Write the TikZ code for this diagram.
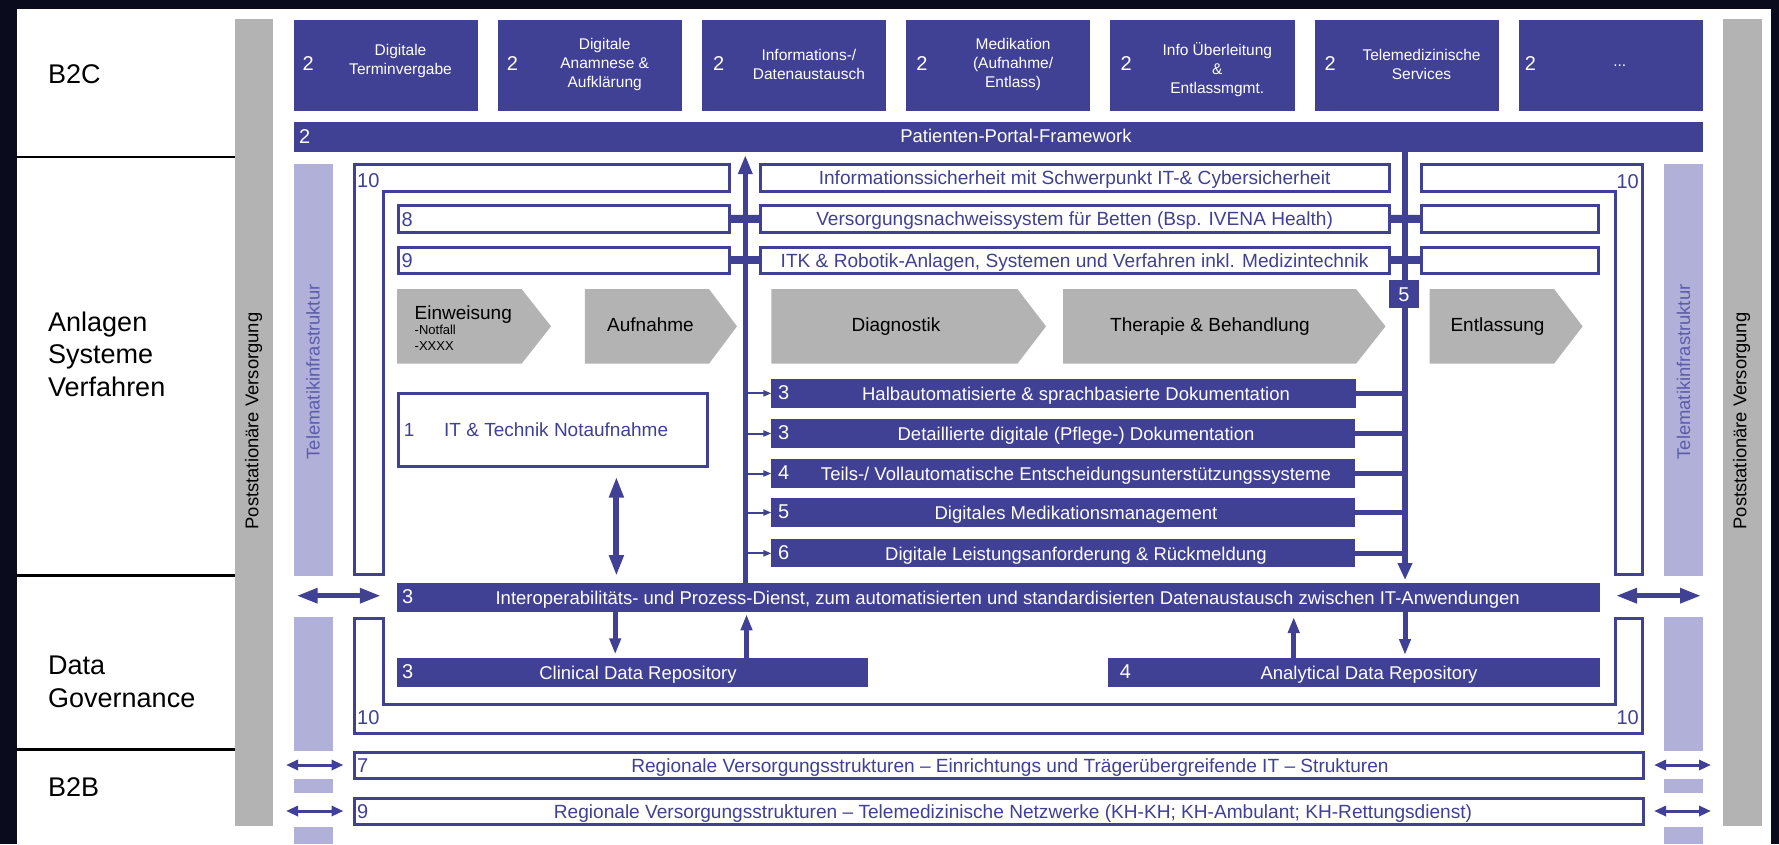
\documentclass[tikz,border=0pt]{standalone}
\usepackage{fontspec}
\setmainfont{Liberation Sans}
\usetikzlibrary{arrows.meta}
\definecolor{myblue}{RGB}{64,64,148}
\definecolor{lpurple}{RGB}{176,176,216}
\definecolor{mygray}{RGB}{179,179,179}
\definecolor{darkbg}{RGB}{10,12,30}
\definecolor{telblue}{RGB}{92,92,172}
\newcommand{\mkbox}[6]{\node[#1,minimum width={#4pt-#2pt},minimum height={#5pt-#3pt}] (#6) at (#2,#3) {};}
\newcommand{\mkwbox}[6]{\node[#1,minimum width={#4pt-#2pt-3pt},minimum height={#5pt-#3pt-3pt}] (#6) at (#2+1.5,#3+1.5) {};}
\newcommand{\mkchev}[4]{\fill[mygray] (#1,289) -- (#2,289) -- (#3,326.35) -- (#2,363.7) -- (#1,363.7) -- cycle; \coordinate (#4) at ({(#1+#2)/2},326.35);}
\begin{document}
\begin{tikzpicture}[x=1pt,y=-1pt,
 fillbox/.style={draw=none,inner sep=0pt,outer sep=0pt,anchor=north west},
 bluebox/.style={fillbox,fill=myblue},
 graybox/.style={fillbox,fill=mygray},
 purplebox/.style={fillbox,fill=lpurple},
 wbox/.style={draw=myblue,line width=3pt,fill=white,inner sep=0pt,outer sep=0pt,anchor=north west},
 lbl/.style={inner sep=0pt,font=\fontsize{27}{32.5}\selectfont,anchor=west,align=left},
 vtxt/.style={inner sep=0pt,rotate=90,font=\fontsize{18.4}{22}\selectfont},
 wnum/.style={inner sep=0pt,text=white,font=\fontsize{20}{24}\selectfont,anchor=west,text height=14.4pt,text depth=0pt},
 bnum/.style={inner sep=0pt,text=myblue,font=\fontsize{20}{24}\selectfont,text height=14.4pt,text depth=0pt},
 wtxt/.style={inner sep=0pt,text=white,font=\fontsize{18.5}{22}\selectfont,text height=13.3pt,text depth=0pt},
 btxt/.style={inner sep=0pt,text=myblue,font=\fontsize{19.1}{23}\selectfont,text height=13.75pt,text depth=0pt},
 toptxt/.style={inner sep=0pt,text=white,font=\fontsize{15.5}{19}\selectfont,align=center},
 chtxt/.style={inner sep=0pt,text=black,font=\fontsize{19}{23}\selectfont,text height=13.7pt,text depth=0pt},
 smtxt/.style={inner sep=0pt,text=black,font=\fontsize{13}{16}\selectfont,anchor=west,text height=9.4pt,text depth=0pt},
 bracket/.style={draw=myblue,line width=3pt,fill=white},
 conn/.style={draw=myblue,line width=8pt},
 vline/.style={draw=myblue,line width=5.5pt},
 thinarr/.style={draw=myblue,line width=2pt,-{Triangle[width=6pt,length=8pt]}},
 rconn/.style={draw=myblue,line width=4.5pt},
 darr/.style={draw=myblue,line width=5pt,-{Triangle[width=11pt,length=16pt]}},
 bigdbl/.style={draw=myblue,line width=5pt,{Triangle[width=14.3pt,length=21pt]}-{Triangle[width=14.3pt,length=21pt]}},
 smdbl/.style={draw=myblue,line width=3pt,{Triangle[width=10pt,length=12pt]}-{Triangle[width=10pt,length=12pt]}}
]
\useasboundingbox (0,0) rectangle (1779,844);
\fill[darkbg] (0,0) rectangle (1779,844);
\fill[white] (17,9) rectangle (1771,844);

% section separators
\draw[line width=2.5pt] (17,157) -- (235,157);
\draw[line width=2.5pt] (17,575.7) -- (235,575.7);
\draw[line width=2.5pt] (17,749.3) -- (235,749.3);

\node[lbl] (lb2c) at (48,74) {B2C};
\node[lbl] (lanl) at (48,354) {Anlagen\\Systeme\\Verfahren};
\node[lbl] (ldata) at (48,682) {Data\\Governance};
\node[lbl] (lb2b) at (48,786.7) {B2B};

% gray bars
\mkbox{graybox}{234.6}{19}{273.2}{825.7}{gl}
\mkbox{graybox}{1723.4}{19}{1762}{825.7}{gr}
\node[vtxt] (glt) at (253.5,421) {Poststationäre Versorgung};
\node[vtxt] (grt) at (1741.5,421) {Poststationäre Versorgung};

% telematik bars
\mkbox{purplebox}{293.5}{164}{332.6}{575.7}{tla}
\mkbox{purplebox}{293.5}{617.3}{332.6}{750.7}{tlb}
\mkbox{purplebox}{293.5}{779}{332.6}{793.3}{tlc}
\mkbox{purplebox}{293.5}{826.7}{332.6}{844}{tld}
\mkbox{purplebox}{1664}{164}{1702.8}{575.7}{tra}
\mkbox{purplebox}{1664}{617.3}{1702.8}{750.7}{trb}
\mkbox{purplebox}{1664}{779}{1702.8}{793.3}{trc}
\mkbox{purplebox}{1664}{826.7}{1702.8}{844}{trd}
\node[vtxt,text=telblue] (tlt) at (313,372) {Telematikinfrastruktur};
\node[vtxt,text=telblue] (trt) at (1683.4,372) {Telematikinfrastruktur};

% top boxes
\mkbox{bluebox}{293.5}{20}{477.7}{110.7}{t1}
\mkbox{bluebox}{497.7}{20}{681.9}{110.7}{t2}
\mkbox{bluebox}{701.9}{20}{886.1}{110.7}{t3}
\mkbox{bluebox}{906.1}{20}{1090.3}{110.7}{t4}
\mkbox{bluebox}{1110.3}{20}{1294.5}{110.7}{t5}
\mkbox{bluebox}{1314.5}{20}{1498.7}{110.7}{t6}
\mkbox{bluebox}{1518.7}{20}{1702.9}{110.7}{t7}
\node[wnum] (n1) at (302.5,63.3) {2};
\node[wnum] (n2) at (506.7,63.3) {2};
\node[wnum] (n3) at (712.9,63.3) {2};
\node[wnum] (n4) at (916.1,63.3) {2};
\node[wnum] (n5) at (1120.3,63.3) {2};
\node[wnum] (n6) at (1324.5,63.3) {2};
\node[wnum] (n7) at (1524.7,63.3) {2};
\node[toptxt] (x1) at (400.5,61) {Digitale\\Terminvergabe};
\node[toptxt] (x2) at (604.7,64.5) {Digitale\\Anamnese \&\\Aufklärung};
\node[toptxt] (x3) at (808.9,64) {Informations-/\\Datenaustausch};
\node[toptxt] (x4) at (1013.1,64.5) {Medikation\\(Aufnahme/\\Entlass)};
\node[toptxt] (x5) at (1217.3,69.5) {Info Überleitung\\\&\\Entlassmgmt.};
\node[toptxt] (x6) at (1421.5,64) {Telemedizinische\\Services};
\node[toptxt] (x7) at (1619.7,66) {...};

% portal bar
\mkbox{bluebox}{294}{122}{1703}{152}{portal}
\node[wnum] (pn) at (299,136) {2};
\node[wtxt] (pt) at (1016,136) {Patienten-Portal-Framework};

% upper brackets 10
\draw[bracket] (354,164.5) -- (729.7,164.5) -- (729.7,191.2) -- (383,191.2) -- (383,574.2) -- (354,574.2) -- cycle;
\draw[bracket] (1421.1,164.5) -- (1642.5,164.5) -- (1642.5,574.2) -- (1615.5,574.2) -- (1615.5,191.2) -- (1421.1,191.2) -- cycle;
\node[bnum,anchor=west] (k1) at (357,180) {10};
\node[bnum,anchor=east] (k2) at (1639,181) {10};

% rows 8 / 9 / info
\mkwbox{wbox}{758.7}{163}{1390.5}{192.7}{info}
\mkwbox{wbox}{758.7}{204}{1390.5}{233.5}{vnw}
\mkwbox{wbox}{758.7}{245.7}{1390.5}{275}{itk}
\mkwbox{wbox}{397.2}{204}{731.2}{234}{l8}
\mkwbox{wbox}{397.2}{245.7}{731.2}{275}{l9}
\mkwbox{wbox}{1419.6}{204}{1600}{234}{r8}
\mkwbox{wbox}{1419.6}{245.7}{1600}{275}{r9}
\node[btxt] (infot) at (1074.6,178) {Informationssicherheit mit Schwerpunkt IT-\& Cybersicherheit};
\node[btxt] (vnwt) at (1074.6,219) {Versorgungsnachweissystem für Betten (Bsp. IVENA Health)};
\node[btxt] (itkt) at (1074.6,260.5) {ITK \& Robotik-Anlagen, Systemen und Verfahren inkl. Medizintechnik};
\node[bnum,anchor=west] (l8n) at (401.5,219) {8};
\node[bnum,anchor=west] (l9n) at (401.5,260.3) {9};
\draw[conn] (l8.east) -- (vnw.west);
\draw[conn] (vnw.east) -- (r8.west);
\draw[conn] (l9.east) -- (itk.west);
\draw[conn] (itk.east) -- (r9.west);

% chevrons
\mkchev{397.2}{521.6}{551}{ch1}
\mkchev{584.8}{709}{737}{ch2}
\mkchev{771.4}{1017.4}{1046}{ch3}
\mkchev{1063}{1356}{1385.5}{ch4}
\mkchev{1429.5}{1554}{1582.6}{ch5}
\node[chtxt,anchor=west] (c1) at (414.5,312.3) {Einweisung};
\node[smtxt] (c1a) at (414.5,329.3) {-Notfall};
\node[smtxt] (c1b) at (414.5,345.7) {-XXXX};
\node[chtxt] (c2) at (650.5,324.3) {Aufnahme};
\node[chtxt] (c3) at (896,324.3) {Diagnostik};
\node[chtxt] (c4) at (1210,324.3) {Therapie \& Behandlung};
\node[chtxt] (c5) at (1497.5,324.3) {Entlassung};

% IT & Technik Notaufnahme
\mkwbox{wbox}{397.2}{392.3}{709}{468.3}{itnot}
\node[bnum,anchor=west,font=\fontsize{19}{23}\selectfont] (itn) at (403.7,429.5) {1};
\node[btxt,anchor=west,font=\fontsize{19}{23}\selectfont] (itt) at (444,430) {IT \& Technik Notaufnahme};

% blue bars
\mkbox{bluebox}{771.4}{379}{1356}{407.7}{bb1}
\mkbox{bluebox}{771.4}{419.3}{1355}{447.7}{bb2}
\mkbox{bluebox}{771.4}{459.3}{1355}{487.7}{bb3}
\mkbox{bluebox}{771.4}{498.3}{1355}{526.7}{bb4}
\mkbox{bluebox}{771.4}{539.3}{1355}{567.3}{bb5}
\node[wnum] (bn1) at (778,392) {3};
\node[wnum] (bn2) at (778,432) {3};
\node[wnum] (bn3) at (778,472) {4};
\node[wnum] (bn4) at (778,511) {5};
\node[wnum] (bn5) at (778,552) {6};
\node[wtxt] (bt1) at (1076,393.5) {Halbautomatisierte \& sprachbasierte Dokumentation};
\node[wtxt] (bt2) at (1076,433.5) {Detaillierte digitale (Pflege-) Dokumentation};
\node[wtxt] (bt3) at (1076,473.5) {Teils-/ Vollautomatische Entscheidungsunterstützungssysteme};
\node[wtxt] (bt4) at (1076,512.5) {Digitales Medikationsmanagement};
\node[wtxt] (bt5) at (1076,553.5) {Digitale Leistungsanforderung \& Rückmeldung};

% interop bar and repositories
\mkbox{bluebox}{397.2}{583.3}{1599.8}{611.7}{interop}
\node[wnum] (ion) at (402,596.5) {3};
\node[wtxt] (iot) at (1007.7,597.5) {Interoperabilitäts- und Prozess-Dienst, zum automatisierten und standardisierten Datenaustausch zwischen IT-Anwendungen};
\mkbox{bluebox}{397.2}{658.3}{867.8}{686.7}{clin}
\node[wnum] (cln) at (402,671.5) {3};
\node[wtxt] (clt) at (638,672.5) {Clinical Data Repository};
\mkbox{bluebox}{1108}{658.3}{1599.8}{686.7}{ana}
\node[wnum] (ann) at (1119.6,671.5) {4};
\node[wtxt] (ant) at (1369,672.5) {Analytical Data Repository};

% vertical main lines
\coordinate (vx0) at (616.4,0);
\coordinate (vx1) at (745.3,0);
\coordinate (vx2) at (1405,0);
\coordinate (cx1) at (615.2,0);
\coordinate (cx2) at (746.5,0);
\coordinate (cx3) at (1293.7,0);
\draw[vline,-{Triangle[width=13.4pt,length=19pt]},shorten >=3pt] (vx1 |- interop.north) -- (vx1 |- portal.south);
\draw[vline,-{Triangle[width=13.8pt,length=17pt]},shorten >=3.3pt] (vx2 |- portal.south) -- (vx2 |- interop.north);
\mkbox{bluebox}{1389}{280}{1419}{308}{b5}
\node[wnum,anchor=center] (b5n) at (b5.center) {5};

% bar connectors
\foreach \b in {bb1,bb2,bb3,bb4,bb5}{
  \draw[thinarr] (\b.west -| vx1) -- (\b.west);
  \draw[rconn] (\b.east) -- (\b.east -| vx2);
}

% double arrow Notaufnahme <-> interop
\draw[draw=myblue,line width=6pt,{Triangle[width=13.8pt,length=21pt]}-{Triangle[width=13.8pt,length=21pt]},shorten <=9.9pt,shorten >=7.3pt] (itnot.south -| vx0) -- (interop.north -| vx0);

% repository arrows
\draw[darr,shorten >=4pt] (interop.south -| cx1) -- (clin.north -| cx1);
\draw[darr,shorten >=2.6pt] (clin.north -| cx2) -- (interop.south -| cx2);
\draw[darr,shorten >=5.3pt] (ana.north -| cx3) -- (interop.south -| cx3);
\draw[darr,shorten >=3.3pt] (interop.south -| vx2) -- (ana.north -| vx2);

% lower bracket 10
\draw[bracket] (354,618.2) -- (383,618.2) -- (383,704.3) -- (1615.5,704.3) -- (1615.5,618.2) -- (1642.5,618.2) -- (1642.5,733.3) -- (354,733.3) -- cycle;
\node[bnum,anchor=west] (k3) at (357,717) {10};
\node[bnum,anchor=east] (k4) at (1639,717) {10};

% rows 7 and 9 (B2B)
\mkwbox{wbox}{352.5}{750.7}{1645}{780}{r7}
\mkwbox{wbox}{352.5}{796.7}{1645}{826}{r9b}
\node[bnum,anchor=west] (r7n) at (357,765.5) {7};
\node[bnum,anchor=west] (r9n) at (357,811.5) {9};
\node[btxt] (r7t) at (1010,765.5) {Regionale Versorgungsstrukturen – Einrichtungs und Trägerübergreifende IT – Strukturen};
\node[btxt] (r9t) at (1013,811.5) {Regionale Versorgungsstrukturen – Telemedizinische Netzwerke (KH-KH; KH-Ambulant; KH-Rettungsdienst)};

% side double arrows
\coordinate (la1) at (296.6,595.7);
\coordinate (la2) at (380.8,595.7);
\coordinate (ra1) at (1616,595.7);
\coordinate (ra2) at (1701,595.7);
\draw[bigdbl] (la1) -- (la2);
\draw[bigdbl] (ra1) -- (ra2);
\coordinate (sl1) at (286,765);
\coordinate (sl2) at (286,811);
\coordinate (sr1) at (1711,765);
\coordinate (sr2) at (1711,811);
\draw[smdbl,shorten >=10.5pt] (sl1) -- (r7.west |- sl1);
\draw[smdbl,shorten >=10.5pt] (sl2) -- (r9b.west |- sl2);
\draw[smdbl,shorten <=10.5pt] (r7.east |- sr1) -- (sr1);
\draw[smdbl,shorten <=10.5pt] (r9b.east |- sr2) -- (sr2);
\end{tikzpicture}
\end{document}
